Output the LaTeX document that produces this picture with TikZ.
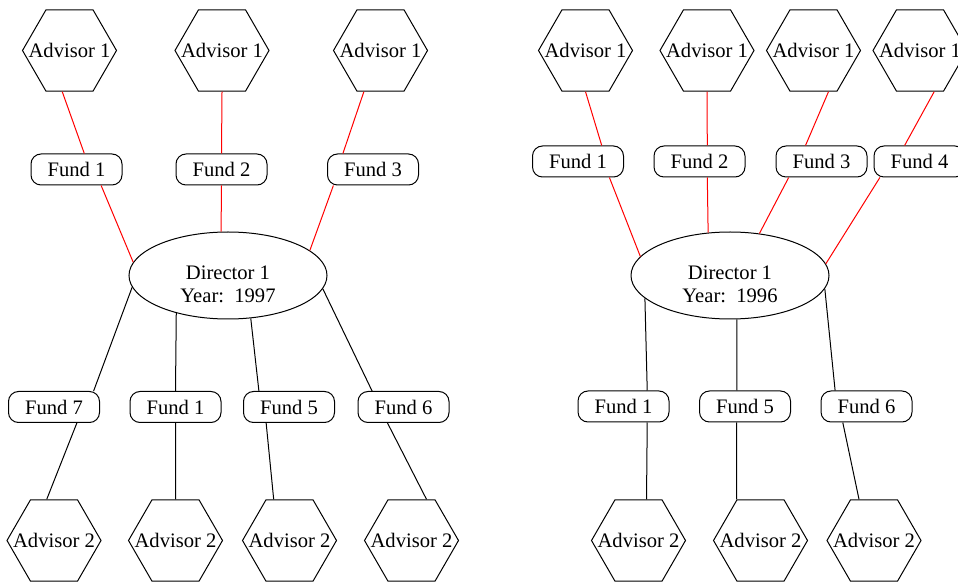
\documentclass[tikz,border=0pt]{standalone}
\usepackage{fontspec}
\setmainfont{Liberation Serif}
\newfontfamily\timesfont{Liberation Serif}
\usepackage{tikz}
\usetikzlibrary{shapes.geometric}

\begin{document}
\begin{tikzpicture}[x=0.5pt, y=-0.5pt, line width=0.5pt,
  every node/.style={font=\timesfont\fontsize{10.3}{11.5}\selectfont},
  advisor/.style={draw, regular polygon, regular polygon sides=6, minimum size=47pt, inner xsep=-14pt, inner ysep=0pt},
  fund/.style={draw, rectangle, rounded corners=5pt, minimum width=45.5pt, minimum height=15.5pt, inner sep=0pt},
  director/.style={draw, ellipse, minimum width=99pt, minimum height=43.5pt, inner sep=0pt, align=center, text height=27.5pt, text depth=0pt},
  redline/.style={red}]
\useasboundingbox (0,0) rectangle (958,582);
\node[advisor] (la1) at (69.5,50.5) {Advisor 1};
\node[advisor] (la2) at (222,50.5) {Advisor 1};
\node[advisor] (la3) at (380.5,50.5) {Advisor 1};
\node[fund] (lf1) at (76.5,169.5) {Fund 1};
\node[fund] (lf2) at (221.5,169.5) {Fund 2};
\node[fund] (lf3) at (373,169.5) {Fund 3};
\node[director] (ld) at (228,275.5) {Director 1\\Year:\ \ 1997};
\node[fund] (lf7) at (54,407) {Fund 7};
\node[fund] (lf1b) at (175.5,407) {Fund 1};
\node[fund] (lf5) at (289,407) {Fund 5};
\node[fund] (lf6) at (403.5,407) {Fund 6};
\node[advisor] (lb1) at (54,540.5) {Advisor 2};
\node[advisor] (lb2) at (175.5,540.5) {Advisor 2};
\node[advisor] (lb3) at (289.5,540.5) {Advisor 2};
\node[advisor] (lb4) at (411.5,540.5) {Advisor 2};
\node[advisor] (ra1) at (585.5,50.5) {Advisor 1};
\node[advisor] (ra2) at (707,50.5) {Advisor 1};
\node[advisor] (ra3) at (813.5,50.5) {Advisor 1};
\node[advisor] (ra4) at (920,50.5) {Advisor 1};
\node[fund] (rf1) at (578,161.5) {Fund 1};
\node[fund] (rf2) at (699.5,161.5) {Fund 2};
\node[fund] (rf3) at (821.5,161.5) {Fund 3};
\node[fund] (rf4) at (919.5,161.5) {Fund 4};
\node[director] (rd) at (730,275.5) {Director 1\\Year:\ \ 1996};
\node[fund] (rf1b) at (623.5,406.5) {Fund 1};
\node[fund] (rf5) at (745,406.5) {Fund 5};
\node[fund] (rf6) at (866.5,406.5) {Fund 6};
\node[advisor] (rb1) at (638.5,540.5) {Advisor 2};
\node[advisor] (rb2) at (760.5,540.5) {Advisor 2};
\node[advisor] (rb3) at (874,540.5) {Advisor 2};
\draw[redline] (la1.260.7) -- (lf1.64.2);
\draw[redline] (lf1.-33.4) -- (ld.172.7);
\draw[redline] (la2.south) -- (lf2.north);
\draw[redline] (lf2.south) -- (ld.99.1);
\draw[redline] (la3.248.7) -- (lf3.152.7);
\draw[redline] (lf3.202.2) -- (ld.17.9);
\draw (ld.187.3) -- (lf7.22.2);
\draw (lf7.-35.2) -- (lb1.100);
\draw (ld.216) -- (lf1b.north);
\draw (lf1b.south) -- (lb2.north);
\draw (ld.298.9) -- (lf5.152.7);
\draw (lf5.215.2) -- (lb3.111.3);
\draw (ld.352.3) -- (lf6.153);
\draw (lf6.225) -- (lb4.70);
\draw[redline] (ra1.south) -- (rf1.34);
\draw[redline] (rf1.-27.3) -- (rd.168);
\draw[redline] (ra2.south) -- (rf2.64.2);
\draw[redline] (rf2.-64.2) -- (rd.117.9);
\draw[redline] (ra3.290) -- (rf3.135);
\draw[redline] (rf3.206.2) -- (rd.55.4);
\draw[redline] (ra4.289.4) -- (rf4.133.1);
\draw[redline] (rf4.202.5) -- (rd.7.1);
\draw (rd.195.3) -- (rf1b.34.6);
\draw (rf1b.-34.6) -- (rb1.79.3);
\draw (rd.279.1) -- (rf5.117.3);
\draw (rf5.242.7) -- (rb2.120.6);
\draw (rd.352.2) -- (rf6.153);
\draw (rf6.214.2) -- (rb3.110.6);
\end{tikzpicture}
\end{document}
